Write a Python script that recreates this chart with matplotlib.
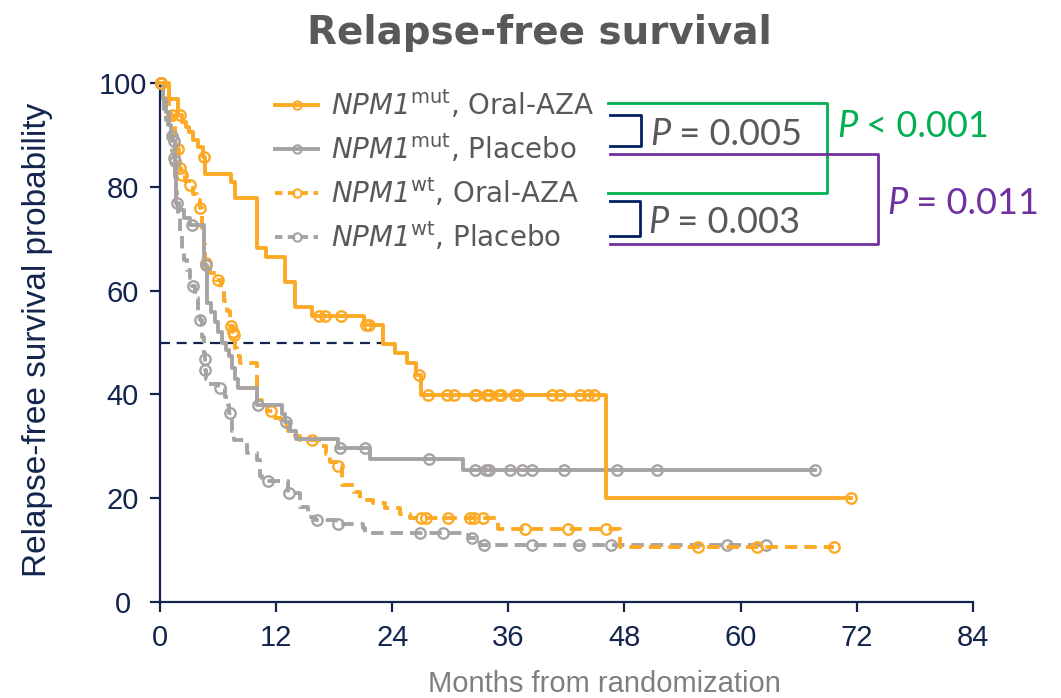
import numpy as np
import matplotlib.pyplot as plt
from matplotlib.lines import Line2D

# \mathsf is mapped to the oblique face so that the gene name, digit included, is slanted
plt.rcParams["mathtext.fontset"] = "custom"
plt.rcParams["mathtext.rm"] = "DejaVu Sans"
plt.rcParams["mathtext.it"] = "DejaVu Sans:italic"
plt.rcParams["mathtext.sf"] = "DejaVu Sans:italic"
plt.rcParams["mathtext.bf"] = "DejaVu Sans:bold"

NAVY = "#14254d"
ORANGE = "#fcaa26"
GREY = "#a7a3a3"
TEXT_GREY = "#595959"

# Kaplan-Meier steps: month of each drop and the survival (%) from that month on
mut_aza_t = [0, 0.9, 1.9, 2.3, 2.7, 3.0, 3.4, 3.9, 4.4, 4.7, 7.3, 7.8, 10.0, 11.0,
             12.9, 14.0, 15.7, 21.1, 23.1, 24.3, 25.5, 26.5, 27.0, 46.1]
mut_aza_s = [100, 97, 93.8, 92.5, 91.6, 90.6, 89, 87.7, 85.8, 82.6, 81, 77.8, 68.2, 66.5,
             61.7, 56.9, 55.2, 53.3, 49.8, 47.9, 46.1, 43.7, 39.8, 20.0]
mut_aza_cens = [0.1, 2.1, 4.5, 16.4, 17.1, 18.7, 21.3, 21.6, 26.8, 27.7, 29.7, 30.4,
                32.6, 32.7, 33.8, 34.0, 35.0, 35.2, 36.7, 37.0, 40.5, 41.3, 43.4,
                44.2, 44.9, 71.4]

mut_pbo_t = [0, 0.3, 0.6, 0.9, 1.1, 1.3, 1.5, 1.7, 2.0, 2.5, 3.1, 4.5, 4.9, 5.3, 5.7,
             6.0, 6.4, 6.8, 7.1, 7.4, 7.8, 8.1, 10.0, 12.6, 12.9, 13.4, 14.1, 18.4,
             21.7, 31.3]
mut_pbo_s = [100, 97, 94.5, 92, 89.8, 88.9, 85, 77, 75.5, 74, 72.6, 65, 57.6, 55.8, 54,
             52, 50, 48.5, 47.3, 45, 43, 41.2, 38, 36.3, 34.7, 33, 31.3, 29.6,
             27.5, 25.4]
mut_pbo_cens = [0.1, 1.2, 1.4, 1.6, 1.8, 3.3, 4.8, 10.1, 13.0, 18.6, 21.2, 27.8,
                32.6, 33.7, 34.0, 36.2, 37.4, 38.4, 41.8, 47.2, 51.4, 67.7]

wt_aza_t = [0, 0.3, 0.6, 0.9, 1.1, 1.3, 1.5, 1.7, 1.85, 1.95, 2.0, 2.2, 2.6, 3.0,
            3.4, 3.8, 4.1, 4.3, 4.5, 4.7, 5.2, 5.8, 6.3, 6.6, 6.9, 7.2, 7.5, 7.6,
            7.8, 8.0, 8.3, 10.0, 10.5, 11.1, 11.9, 12.5, 13.2, 14.0, 14.5, 16.4,
            17.2, 17.6, 18.2, 18.8, 20.0, 20.7, 22.0, 23.3, 24.8, 25.8, 34.9, 47.5]
wt_aza_s = [100, 98, 96.5, 95, 93.8, 92, 90, 88.5, 87.4, 85.5, 83.7, 82.3, 81.2, 80.3,
            78.6, 77.4, 75.9, 72, 69, 65.3, 63.5, 62, 60.5, 58, 56, 53.2, 52, 51.4,
            49, 47.3, 46.1, 39, 38, 36.8, 35.5, 34, 33, 32, 31.2, 30,
            28.5, 27, 26.1, 22.5, 21.2, 19.6, 19, 18, 17, 16.1, 14.0, 10.5]
wt_aza_cens = [0.1, 1.2, 1.9, 2.05, 2.25, 3.1, 4.15, 4.8, 6.0, 7.35, 7.55, 7.65, 11.5,
               15.7, 18.4, 27.0, 27.5, 29.8, 32.0, 32.5, 33.4, 37.7, 42.2, 46.1,
               55.6, 61.7, 69.7]

wt_pbo_t = [0, 0.2, 0.4, 0.6, 0.8, 1.0, 1.2, 1.4, 1.6, 1.7, 1.8, 1.9, 2.1, 2.3, 2.5,
            2.8, 3.1, 3.3, 3.6, 3.9, 4.1, 4.3, 4.5, 4.6, 4.65, 4.8, 5.0, 6.0, 6.7,
            7.0, 7.1, 7.4, 7.6, 9.0, 10.0, 10.3, 10.5, 13.2, 14.5, 15.3, 16.0, 18.2,
            21.0, 21.2, 31.2, 31.9, 33.1]
wt_pbo_s = [100, 97, 95, 93, 91, 89, 87, 85.6, 82, 79, 76.5, 74, 71, 68, 65.9,
            64, 62.5, 60.9, 58.5, 56, 54.3, 51, 48, 46.8, 44.7, 43, 42, 41.2, 39.5,
            38, 36.4, 33, 31.2, 28.6, 27.3, 24.2, 23.2, 20.9, 18.3, 16.4, 15.8, 15.0,
            14.2, 13.2, 12.9, 12.2, 10.9]
wt_pbo_cens = [0.1, 1.45, 3.4, 4.1, 4.6, 4.7, 6.2, 7.2, 11.2, 13.3, 16.2, 18.4, 26.9,
               29.2, 32.2, 33.5, 38.5, 43.3, 46.6, 58.6, 62.6]

labels = [r"$\mathsf{NPM1}^{\mathrm{mut}}$, Oral-AZA",
          r"$\mathsf{NPM1}^{\mathrm{mut}}$, Placebo",
          r"$\mathsf{NPM1}^{\mathrm{wt}}$, Oral-AZA",
          r"$\mathsf{NPM1}^{\mathrm{wt}}$, Placebo"]

median_level = 50
median_mut_aza = 23.1

x_ticks = np.arange(0, 85, 12)
y_ticks = np.arange(0, 101, 20)


def level_at(times, surv, when):
    idx = np.searchsorted(times, when, side="right") - 1
    return np.asarray(surv)[idx]


def km_curve(ax, times, surv, cens, color, dashed, z):
    end = max(cens)
    t = list(times) + [end]
    s = list(surv) + [surv[-1]]
    style = dict(color=color, lw=2.8, clip_on=False, zorder=z)
    if dashed:
        style.update(linestyle="--", dashes=(3.2, 1.8))
    ax.step(t, s, where="post", **style)
    ax.plot(cens, level_at(times, surv, cens), "o", ms=7.5, mfc="none", mec=color,
            mew=1.7, clip_on=False, zorder=z)


fig = plt.figure(figsize=(10.61, 6.98), dpi=100)
ax = fig.add_axes([160 / 1061, 1 - 601.7 / 698, 812.7 / 1061, 518.4 / 698])

ax.plot([0, median_mut_aza], [median_level, median_level], color=NAVY, lw=1.6,
        linestyle="--", dashes=(4.5, 3), zorder=1)

km_curve(ax, wt_pbo_t, wt_pbo_s, wt_pbo_cens, GREY, True, 2)
km_curve(ax, wt_aza_t, wt_aza_s, wt_aza_cens, ORANGE, True, 3)
km_curve(ax, mut_pbo_t, mut_pbo_s, mut_pbo_cens, GREY, False, 4)
km_curve(ax, mut_aza_t, mut_aza_s, mut_aza_cens, ORANGE, False, 5)

ax.set_xlim(0, 84)
ax.set_ylim(0, 100)
ax.set_xticks(x_ticks)
ax.set_yticks(y_ticks)
for side in ("top", "right"):
    ax.spines[side].set_visible(False)
for side in ("left", "bottom"):
    ax.spines[side].set_color(NAVY)
    ax.spines[side].set_linewidth(1.6)
ax.tick_params(direction="out", length=7, width=1.6, color=NAVY, labelcolor=NAVY,
               labelsize=21)
ax.tick_params(axis="x", pad=9)
ax.tick_params(axis="y", pad=20)
for lab in ax.get_xticklabels() + ax.get_yticklabels():
    lab.set_fontfamily("Liberation Sans")
for lab in ax.get_yticklabels():
    lab.set_horizontalalignment("center")

handles = [
    Line2D([], [], color=ORANGE, lw=2.8, marker="o", ms=6, mfc="none", mew=1.5),
    Line2D([], [], color=GREY, lw=2.8, marker="o", ms=6, mfc="none", mew=1.5),
    Line2D([], [], color=ORANGE, lw=2.8, ls="--", dashes=(1.9, 1.4), marker="o",
           ms=6, mfc="none", mew=1.5),
    Line2D([], [], color=GREY, lw=2.8, ls="--", dashes=(1.9, 1.4), marker="o",
           ms=6, mfc="none", mew=1.5),
]
leg = fig.legend(handles, labels, loc="upper left",
                 bbox_to_anchor=(275 / 1061, 1 - 89 / 698), frameon=False,
                 fontsize=20, handlelength=1.55, handletextpad=0.45,
                 labelspacing=0.42, borderpad=0, borderaxespad=0, numpoints=1)
for txt in leg.get_texts():
    txt.set_color(TEXT_GREY)

fig.text(539 / 1061, 1 - 44 / 698, "Relapse-free survival", ha="center",
         va="baseline", fontsize=28, fontweight="bold", color=TEXT_GREY)
fig.text(38 / 1061, 1 - 340 / 698, "Relapse-free survival probability",
         rotation=90, ha="center", va="center", fontsize=24, color=NAVY,
         family="Liberation Sans")
fig.text(604 / 1061, 1 - 692 / 698, "Months from randomization", ha="center",
         va="baseline", fontsize=21, color="#7f7f7f", family="Liberation Sans")

# comparison brackets and P values, drawn in pixel space
over = fig.add_axes([0, 0, 1, 1], zorder=10)
over.set_xlim(0, 1061)
over.set_ylim(698, 0)
over.axis("off")

brackets = [
    ([608, 827, 827, 608], [102.7, 102.7, 193.3, 193.3], "#00b050"),
    ([610, 878, 878, 610], [154, 154, 244, 244], "#7030a0"),
    ([610, 641, 641, 610], [114.5, 114.5, 145.7, 145.7], "#002060"),
    ([610, 640, 640, 610], [200.7, 200.7, 236, 236], "#002060"),
]
for xs, ys, col in brackets:
    over.plot(xs, ys, color=col, lw=2)

p_values = [
    (650, 145, " = 0.005", TEXT_GREY),
    (837, 137, " < 0.001", "#00b050"),
    (887, 214, " = 0.011", "#7030a0"),
    (648, 233, " = 0.003", TEXT_GREY),
]
for x, y, rest, col in p_values:
    p = over.text(x, y, "P", fontsize=26, family="Lato", style="italic",
                  color=col, va="baseline", ha="left")
    over.annotate(rest, xy=(1, 0), xycoords=p, fontsize=26, family="Lato",
                  color=col, va="bottom", ha="left")

fig.savefig("out.png", dpi=100)
